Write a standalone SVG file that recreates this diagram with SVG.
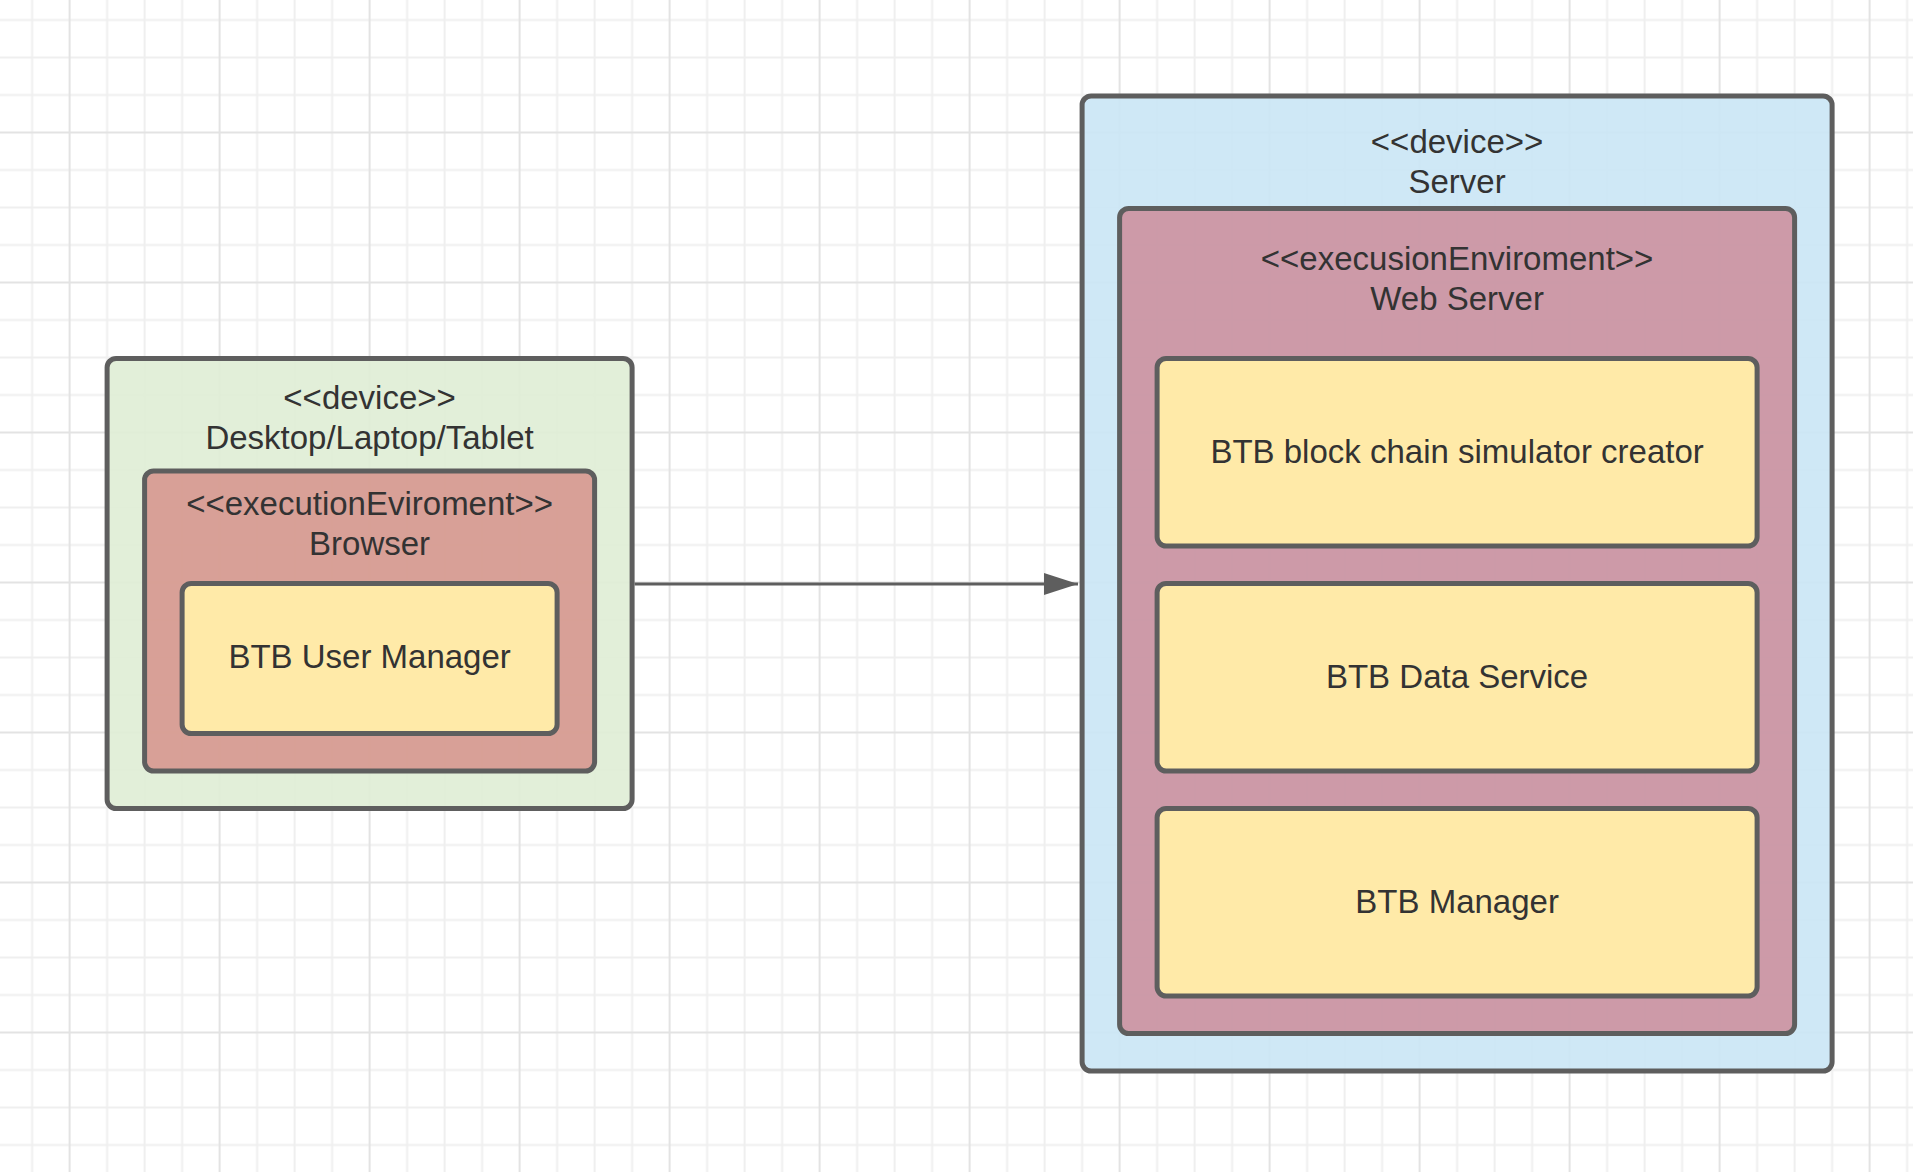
<svg xmlns="http://www.w3.org/2000/svg" width="1913" height="1172" viewBox="0 0 1913 1172">
  <defs>
    <pattern id="grid" patternUnits="userSpaceOnUse" x="68.6" y="131.5" width="150" height="150">
      <g stroke="#efefef" stroke-width="2">
        <line x1="38.5" y1="0" x2="38.5" y2="150"/>
        <line x1="76" y1="0" x2="76" y2="150"/>
        <line x1="113.5" y1="0" x2="113.5" y2="150"/>
        <line x1="0" y1="38.5" x2="150" y2="38.5"/>
        <line x1="0" y1="76" x2="150" y2="76"/>
        <line x1="0" y1="113.5" x2="150" y2="113.5"/>
      </g>
      <g stroke="#e3e3e3" stroke-width="2">
        <line x1="1" y1="0" x2="1" y2="150"/>
        <line x1="0" y1="1" x2="150" y2="1"/>
      </g>
    </pattern>
    <marker id="arrow" markerUnits="userSpaceOnUse" markerWidth="36" markerHeight="24" refX="34" refY="11" orient="auto">
      <path d="M0,0 L34,11 L0,22 Z" fill="#5e5e5e"/>
    </marker>
    <style>
      .box { stroke: #5e5e5e; stroke-width: 5; }
      .device-green { fill: #dfedd5; fill-opacity: 0.9; }
      .env-salmon { fill: #d7978f; fill-opacity: 0.9; }
      .device-blue { fill: #cae5f5; fill-opacity: 0.9; }
      .env-mauve { fill: #cc91a0; fill-opacity: 0.9; }
      .comp { fill: #ffeaa8; }
      text { font-family: "Liberation Sans", Arial, sans-serif; font-size: 33px; fill: #333333; text-anchor: middle; }
      .conn { stroke: #5e5e5e; stroke-width: 3; fill: none; }
    </style>
  </defs>

  <rect x="0" y="0" width="1913" height="1172" fill="#ffffff"/>
  <rect x="0" y="0" width="1913" height="1172" fill="url(#grid)"/>

  <g id="device-desktop">
    <rect class="box device-green" x="107.1" y="358.5" width="525" height="450" rx="9"/>
    <text x="369.6" y="408.5">&lt;&lt;device&gt;&gt;</text>
    <text x="369.6" y="448.5">Desktop/Laptop/Tablet</text>
  </g>
  <g id="env-browser">
    <rect class="box env-salmon" x="144.6" y="471" width="450" height="300" rx="9"/>
    <text x="369.6" y="514.5">&lt;&lt;executionEviroment&gt;&gt;</text>
    <text x="369.6" y="554.5">Browser</text>
  </g>
  <g id="comp-user-manager">
    <rect class="box comp" x="182.1" y="583.5" width="375" height="150" rx="9"/>
    <text x="369.6" y="667.5">BTB User Manager</text>
  </g>

  <g id="device-server">
    <rect class="box device-blue" x="1082.1" y="96" width="750" height="975" rx="9"/>
    <text x="1457.1" y="152.5">&lt;&lt;device&gt;&gt;</text>
    <text x="1457.1" y="192.5">Server</text>
  </g>
  <g id="env-web-server">
    <rect class="box env-mauve" x="1119.6" y="208.5" width="675" height="825" rx="9"/>
    <text x="1457.1" y="269.5">&lt;&lt;execusionEnviroment&gt;&gt;</text>
    <text x="1457.1" y="309.5">Web Server</text>
  </g>
  <g id="comp-simulator-creator">
    <rect class="box comp" x="1157.1" y="358.5" width="600" height="187.5" rx="9"/>
    <text x="1457.1" y="462.5">BTB block chain simulator creator</text>
  </g>
  <g id="comp-data-service">
    <rect class="box comp" x="1157.1" y="583.5" width="600" height="187.5" rx="9"/>
    <text x="1457.1" y="687.5">BTB Data Service</text>
  </g>
  <g id="comp-manager">
    <rect class="box comp" x="1157.1" y="808.5" width="600" height="187.5" rx="9"/>
    <text x="1457.1" y="912.5">BTB Manager</text>
  </g>

  <g id="connectors">
    <line class="conn" x1="634.6" y1="584" x2="1078" y2="584" marker-end="url(#arrow)"/>
  </g>
</svg>
